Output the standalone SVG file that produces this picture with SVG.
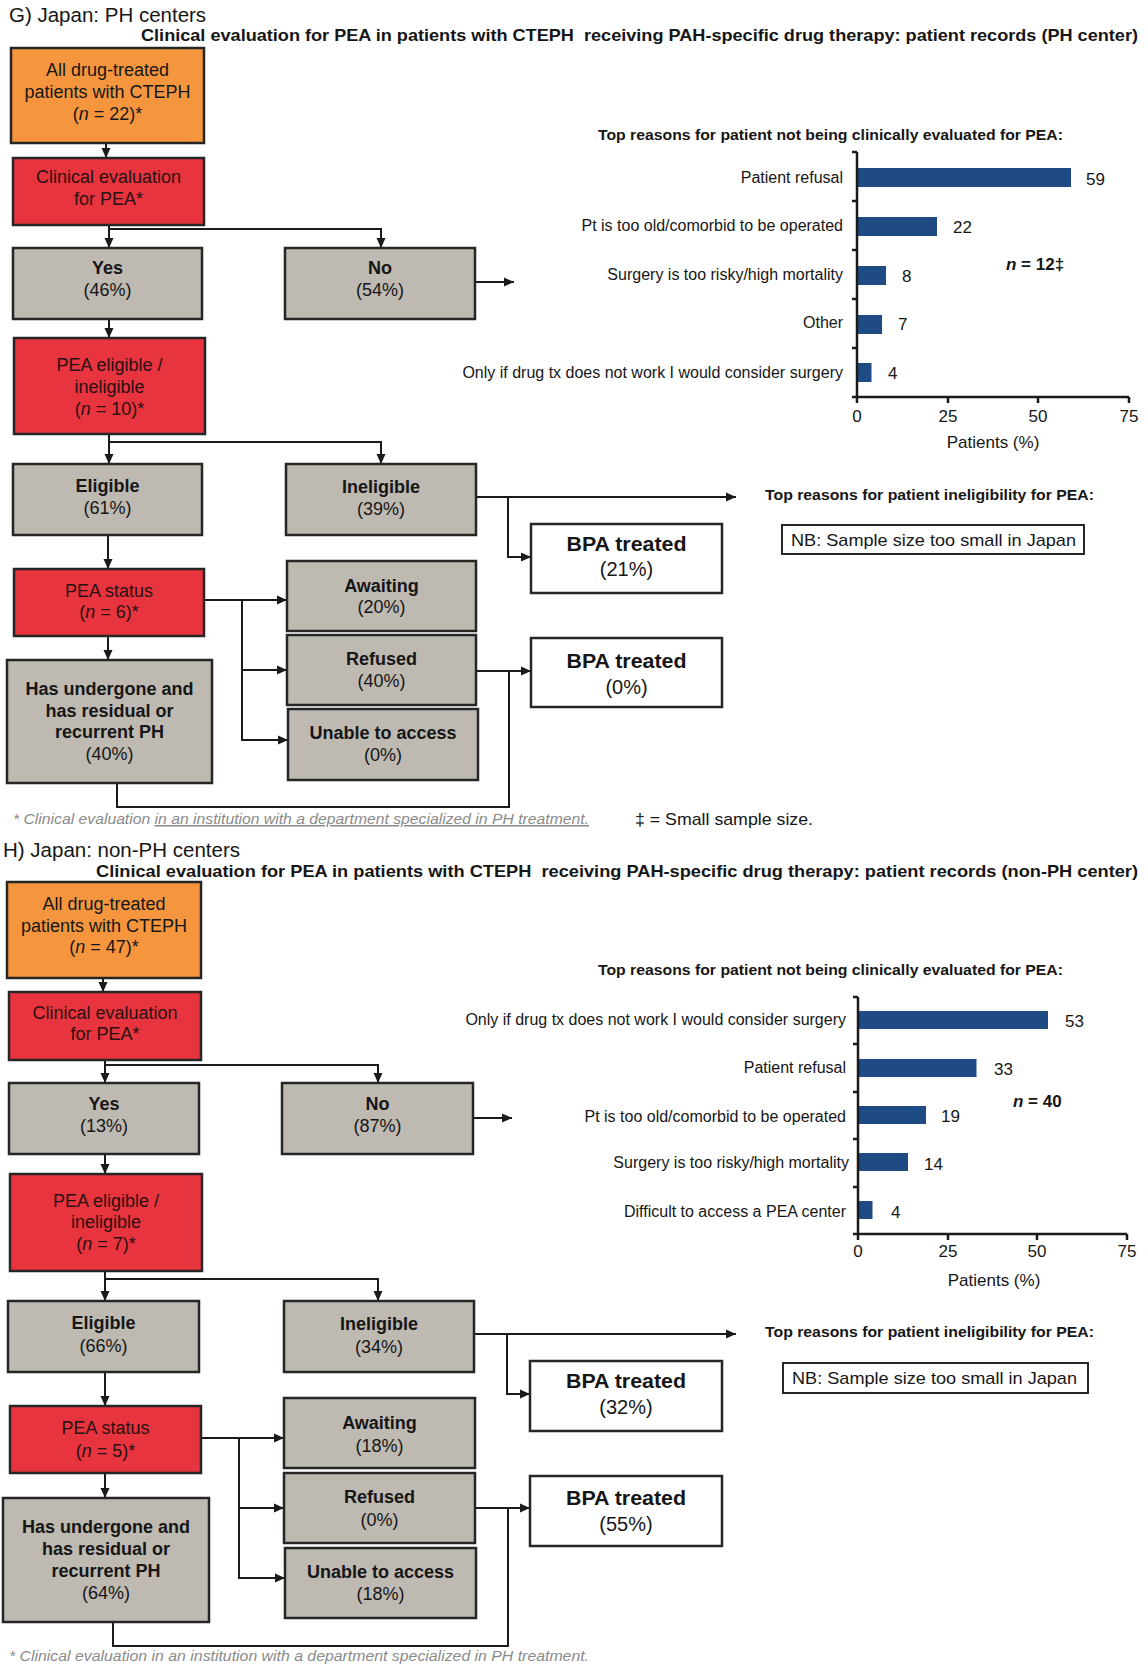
<svg xmlns="http://www.w3.org/2000/svg" width="1148" height="1665" viewBox="0 0 1148 1665">
<style>
text{font-family:"Liberation Sans",Arial,sans-serif;fill:#161616}
.bx{stroke:#262626;stroke-width:2.5}
.org{fill:#F5963F}
.red{fill:#E8343E}
.gry{fill:#BEB9B1}
.wht{fill:#fff}
.t{font-size:18px;text-anchor:middle}
.rt{fill:#2a1010}
.b{font-weight:bold}
.bt{font-size:20px;text-anchor:middle}
.conn path{stroke:#1a1a1a;stroke-width:2;fill:none}
.ar{marker-end:url(#ah)}
.bar{fill:#1E4B84}
.ax{stroke:#1a1a1a;stroke-width:2.5;fill:none}
.lbl{font-size:16px;text-anchor:end}
.val{font-size:17px}
.tk{font-size:17px;text-anchor:middle}
.ttl{font-size:20.5px}
.sub{font-size:16.5px;font-weight:bold}
.ct{font-size:15.5px;font-weight:bold}
.fn{font-size:15px;font-style:italic;fill:#8a8a8a}
</style>
<defs>
<marker id="ah" viewBox="0 0 10 10" refX="10" refY="5" markerWidth="10" markerHeight="10" markerUnits="userSpaceOnUse" orient="auto">
<path d="M0,0.5 L10,5 L0,9.5 z" fill="#1a1a1a"/>
</marker>
</defs>

<!-- ===== G section ===== -->
<text class="ttl" x="9" y="22">G) Japan: PH centers</text>
<text class="sub" x="141" y="41" textLength="997" lengthAdjust="spacingAndGlyphs" xml:space="preserve">Clinical evaluation for PEA in patients with CTEPH  receiving PAH-specific drug therapy: patient records (PH center)</text>

<g class="conn" id="g-connectors">
<path class="ar" d="M106 143 V158"/>
<path class="ar" d="M109 225 V248"/>
<path class="ar" d="M109 229 H381 V248"/>
<path class="ar" d="M475 282 H514"/>
<path class="ar" d="M109 319 V338"/>
<path class="ar" d="M109 434 V464"/>
<path class="ar" d="M109 442 H381 V464"/>
<path class="ar" d="M476 497 H736"/>
<path class="ar" d="M508 497 V557 H531"/>
<path class="ar" d="M108 535 V569"/>
<path class="ar" d="M204 600 H287"/>
<path class="ar" d="M242 600 V740 H288"/>
<path class="ar" d="M242 670 H287"/>
<path class="ar" d="M108 636 V660"/>
<path class="ar" d="M476 671 H531"/>
<path d="M117 783 V807 H509 V671"/>
</g>

<g id="g-all">
<rect class="bx org" x="11" y="48" width="193" height="95"/>
<text class="t" x="107.5" y="76">All drug-treated</text>
<text class="t" x="107.5" y="98">patients with CTEPH</text>
<text class="t" x="107.5" y="120">(<tspan font-style="italic">n</tspan> = 22)*</text>
</g>
<g id="g-clin">
<rect class="bx red" x="13" y="158" width="191" height="67"/>
<text class="t rt" x="108.5" y="183">Clinical evaluation</text>
<text class="t rt" x="108.5" y="205">for PEA*</text>
</g>
<g id="g-yes">
<rect class="bx gry" x="13" y="248" width="189" height="71"/>
<text class="t b" x="107.5" y="274">Yes</text>
<text class="t" x="107.5" y="296">(46%)</text>
</g>
<g id="g-no">
<rect class="bx gry" x="285" y="248" width="190" height="71"/>
<text class="t b" x="380" y="274">No</text>
<text class="t" x="380" y="296">(54%)</text>
</g>
<g id="g-elig-q">
<rect class="bx red" x="14" y="338" width="191" height="96"/>
<text class="t rt" x="109.5" y="371">PEA eligible /</text>
<text class="t rt" x="109.5" y="393">ineligible</text>
<text class="t rt" x="109.5" y="415">(<tspan font-style="italic">n</tspan> = 10)*</text>
</g>
<g id="g-eligible">
<rect class="bx gry" x="13" y="464" width="189" height="71"/>
<text class="t b" x="107.5" y="492">Eligible</text>
<text class="t" x="107.5" y="514">(61%)</text>
</g>
<g id="g-ineligible">
<rect class="bx gry" x="286" y="464" width="190" height="71"/>
<text class="t b" x="381" y="493">Ineligible</text>
<text class="t" x="381" y="515">(39%)</text>
</g>
<g id="g-status">
<rect class="bx red" x="14" y="569" width="190" height="67"/>
<text class="t rt" x="109" y="597">PEA status</text>
<text class="t rt" x="109" y="618">(<tspan font-style="italic">n</tspan> = 6)*</text>
</g>
<g id="g-awaiting">
<rect class="bx gry" x="287" y="561" width="189" height="70"/>
<text class="t b" x="381.5" y="592">Awaiting</text>
<text class="t" x="381.5" y="613">(20%)</text>
</g>
<g id="g-refused">
<rect class="bx gry" x="287" y="635" width="189" height="70"/>
<text class="t b" x="381.5" y="665">Refused</text>
<text class="t" x="381.5" y="687">(40%)</text>
</g>
<g id="g-unable">
<rect class="bx gry" x="288" y="709" width="190" height="71"/>
<text class="t b" x="383" y="739">Unable to access</text>
<text class="t" x="383" y="761">(0%)</text>
</g>
<g id="g-undergone">
<rect class="bx gry" x="7" y="660" width="205" height="123"/>
<text class="t b" x="109.5" y="695">Has undergone and</text>
<text class="t b" x="109.5" y="717">has residual or</text>
<text class="t b" x="109.5" y="738">recurrent PH</text>
<text class="t" x="109.5" y="760">(40%)</text>
</g>
<g id="g-bpa1">
<rect class="bx wht" x="531" y="524" width="191" height="69"/>
<text class="bt b" x="626.5" y="551" textLength="120" lengthAdjust="spacingAndGlyphs">BPA treated</text>
<text class="bt" x="626.5" y="576">(21%)</text>
</g>
<g id="g-bpa2">
<rect class="bx wht" x="531" y="638" width="191" height="69"/>
<text class="bt b" x="626.5" y="668" textLength="120" lengthAdjust="spacingAndGlyphs">BPA treated</text>
<text class="bt" x="626.5" y="694">(0%)</text>
</g>

<g id="g-inelig-reasons">
<text class="ct" x="765" y="500" textLength="329" lengthAdjust="spacingAndGlyphs">Top reasons for patient ineligibility for PEA:</text>
<rect x="782" y="525" width="302" height="29" fill="#fff" stroke="#262626" stroke-width="2"/>
<text x="791" y="546" font-size="17" textLength="285" lengthAdjust="spacingAndGlyphs">NB: Sample size too small in Japan</text>
</g>

<g id="g-chart">
<text class="ct" x="598" y="140" textLength="465" lengthAdjust="spacingAndGlyphs">Top reasons for patient not being clinically evaluated for PEA:</text>
<rect class="bar" x="857" y="168" width="214" height="19"/>
<rect class="bar" x="857" y="217" width="80" height="19"/>
<rect class="bar" x="857" y="266" width="29" height="19"/>
<rect class="bar" x="857" y="315" width="25" height="19"/>
<rect class="bar" x="857" y="363" width="14.5" height="19"/>
<path class="ax" d="M857 152 V397 H1129 M852 152 H857 M852 201 H857 M852 250 H857 M852 299 H857 M852 348 H857 M852 397 H857 M857 397 V403 M948 397 V403 M1038 397 V403 M1129 397 V403"/>
<text class="lbl" x="843" y="183">Patient refusal</text>
<text class="lbl" x="843" y="231">Pt is too old/comorbid to be operated</text>
<text class="lbl" x="843" y="280">Surgery is too risky/high mortality</text>
<text class="lbl" x="843" y="328">Other</text>
<text class="lbl" x="843" y="378">Only if drug tx does not work I would consider surgery</text>
<text class="val" x="1086" y="185">59</text>
<text class="val" x="953" y="233">22</text>
<text class="val" x="902" y="282">8</text>
<text class="val" x="898" y="330">7</text>
<text class="val" x="888" y="379">4</text>
<text class="val b" x="1006" y="270"><tspan font-style="italic">n</tspan> = 12‡</text>
<text class="tk" x="857" y="422">0</text>
<text class="tk" x="948" y="422">25</text>
<text class="tk" x="1038" y="422">50</text>
<text class="tk" x="1129" y="422">75</text>
<text class="tk" x="993" y="448" font-size="16">Patients (%)</text>
</g>

<text class="fn" x="13" y="824" textLength="576" lengthAdjust="spacingAndGlyphs">* Clinical evaluation <tspan text-decoration="underline">in an institution with a department specialized in PH treatment.</tspan></text>
<text x="635" y="825" font-size="17" textLength="178" lengthAdjust="spacingAndGlyphs">‡ = Small sample size.</text>

<!-- ===== H section ===== -->
<text class="ttl" x="3" y="857">H) Japan: non-PH centers</text>
<text class="sub" x="96" y="877" textLength="1042" lengthAdjust="spacingAndGlyphs" xml:space="preserve">Clinical evaluation for PEA in patients with CTEPH  receiving PAH-specific drug therapy: patient records (non-PH center)</text>

<g class="conn" id="h-connectors">
<path class="ar" d="M103 978 V992"/>
<path class="ar" d="M105 1060 V1083"/>
<path class="ar" d="M105 1065 H378 V1083"/>
<path class="ar" d="M473 1118 H512"/>
<path class="ar" d="M105 1154 V1174"/>
<path class="ar" d="M105 1271 V1301"/>
<path class="ar" d="M105 1279 H378 V1301"/>
<path class="ar" d="M474 1334 H736"/>
<path class="ar" d="M507 1334 V1394 H530"/>
<path class="ar" d="M105 1372 V1406"/>
<path class="ar" d="M201 1438 H284"/>
<path class="ar" d="M239 1438 V1578 H285"/>
<path class="ar" d="M239 1508 H284"/>
<path class="ar" d="M105 1473 V1498"/>
<path class="ar" d="M475 1508 H530"/>
<path d="M113 1622 V1646 H508 V1508"/>
</g>

<g id="h-all">
<rect class="bx org" x="7" y="882" width="194" height="96"/>
<text class="t" x="104" y="910">All drug-treated</text>
<text class="t" x="104" y="932">patients with CTEPH</text>
<text class="t" x="104" y="953">(<tspan font-style="italic">n</tspan> = 47)*</text>
</g>
<g id="h-clin">
<rect class="bx red" x="9" y="992" width="192" height="68"/>
<text class="t rt" x="105" y="1019">Clinical evaluation</text>
<text class="t rt" x="105" y="1040">for PEA*</text>
</g>
<g id="h-yes">
<rect class="bx gry" x="9" y="1083" width="190" height="71"/>
<text class="t b" x="104" y="1110">Yes</text>
<text class="t" x="104" y="1132">(13%)</text>
</g>
<g id="h-no">
<rect class="bx gry" x="282" y="1083" width="191" height="71"/>
<text class="t b" x="377.5" y="1110">No</text>
<text class="t" x="377.5" y="1132">(87%)</text>
</g>
<g id="h-elig-q">
<rect class="bx red" x="10" y="1174" width="192" height="97"/>
<text class="t rt" x="106" y="1207">PEA eligible /</text>
<text class="t rt" x="106" y="1228">ineligible</text>
<text class="t rt" x="106" y="1250">(<tspan font-style="italic">n</tspan> = 7)*</text>
</g>
<g id="h-eligible">
<rect class="bx gry" x="8" y="1301" width="191" height="71"/>
<text class="t b" x="103.5" y="1329">Eligible</text>
<text class="t" x="103.5" y="1352">(66%)</text>
</g>
<g id="h-ineligible">
<rect class="bx gry" x="284" y="1301" width="190" height="71"/>
<text class="t b" x="379" y="1330">Ineligible</text>
<text class="t" x="379" y="1353">(34%)</text>
</g>
<g id="h-status">
<rect class="bx red" x="10" y="1406" width="191" height="67"/>
<text class="t rt" x="105.5" y="1434">PEA status</text>
<text class="t rt" x="105.5" y="1457">(<tspan font-style="italic">n</tspan> = 5)*</text>
</g>
<g id="h-awaiting">
<rect class="bx gry" x="284" y="1398" width="191" height="70"/>
<text class="t b" x="379.5" y="1429">Awaiting</text>
<text class="t" x="379.5" y="1452">(18%)</text>
</g>
<g id="h-refused">
<rect class="bx gry" x="284" y="1473" width="191" height="70"/>
<text class="t b" x="379.5" y="1503">Refused</text>
<text class="t" x="379.5" y="1526">(0%)</text>
</g>
<g id="h-unable">
<rect class="bx gry" x="285" y="1548" width="191" height="70"/>
<text class="t b" x="380.5" y="1578">Unable to access</text>
<text class="t" x="380.5" y="1600">(18%)</text>
</g>
<g id="h-undergone">
<rect class="bx gry" x="3" y="1498" width="206" height="124"/>
<text class="t b" x="106" y="1533">Has undergone and</text>
<text class="t b" x="106" y="1555">has residual or</text>
<text class="t b" x="106" y="1577">recurrent PH</text>
<text class="t" x="106" y="1599">(64%)</text>
</g>
<g id="h-bpa1">
<rect class="bx wht" x="530" y="1361" width="192" height="70"/>
<text class="bt b" x="626" y="1388" textLength="120" lengthAdjust="spacingAndGlyphs">BPA treated</text>
<text class="bt" x="626" y="1414">(32%)</text>
</g>
<g id="h-bpa2">
<rect class="bx wht" x="530" y="1476" width="192" height="70"/>
<text class="bt b" x="626" y="1505" textLength="120" lengthAdjust="spacingAndGlyphs">BPA treated</text>
<text class="bt" x="626" y="1531">(55%)</text>
</g>

<g id="h-inelig-reasons">
<text class="ct" x="765" y="1337" textLength="329" lengthAdjust="spacingAndGlyphs">Top reasons for patient ineligibility for PEA:</text>
<rect x="783" y="1363" width="305" height="30" fill="#fff" stroke="#262626" stroke-width="2"/>
<text x="792" y="1384" font-size="17" textLength="285" lengthAdjust="spacingAndGlyphs">NB: Sample size too small in Japan</text>
</g>

<g id="h-chart">
<text class="ct" x="598" y="975" textLength="465" lengthAdjust="spacingAndGlyphs">Top reasons for patient not being clinically evaluated for PEA:</text>
<rect class="bar" x="858" y="1011" width="190" height="18"/>
<rect class="bar" x="858" y="1059" width="118.5" height="18"/>
<rect class="bar" x="858" y="1106" width="68" height="18"/>
<rect class="bar" x="858" y="1153" width="50" height="18"/>
<rect class="bar" x="858" y="1201" width="14.5" height="18"/>
<path class="ax" d="M858 997 V1234 H1127 M853 997 H858 M853 1044 H858 M853 1092 H858 M853 1139 H858 M853 1187 H858 M853 1234 H858 M858 1234 V1240 M948 1234 V1240 M1037 1234 V1240 M1127 1234 V1240"/>
<text class="lbl" x="846" y="1025">Only if drug tx does not work I would consider surgery</text>
<text class="lbl" x="846" y="1073">Patient refusal</text>
<text class="lbl" x="846" y="1122">Pt is too old/comorbid to be operated</text>
<text class="lbl" x="849" y="1168">Surgery is too risky/high mortality</text>
<text class="lbl" x="846" y="1217">Difficult to access a PEA center</text>
<text class="val" x="1065" y="1027">53</text>
<text class="val" x="994" y="1075">33</text>
<text class="val" x="941" y="1122">19</text>
<text class="val" x="924" y="1170">14</text>
<text class="val" x="891" y="1218">4</text>
<text class="val b" x="1013" y="1107"><tspan font-style="italic">n</tspan> = 40</text>
<text class="tk" x="858" y="1257">0</text>
<text class="tk" x="948" y="1257">25</text>
<text class="tk" x="1037" y="1257">50</text>
<text class="tk" x="1127" y="1257">75</text>
<text class="tk" x="994" y="1286" font-size="16">Patients (%)</text>
</g>

<text class="fn" x="9" y="1661" textLength="580" lengthAdjust="spacingAndGlyphs">* Clinical evaluation in an institution with a department specialized in PH treatment.</text>
</svg>
